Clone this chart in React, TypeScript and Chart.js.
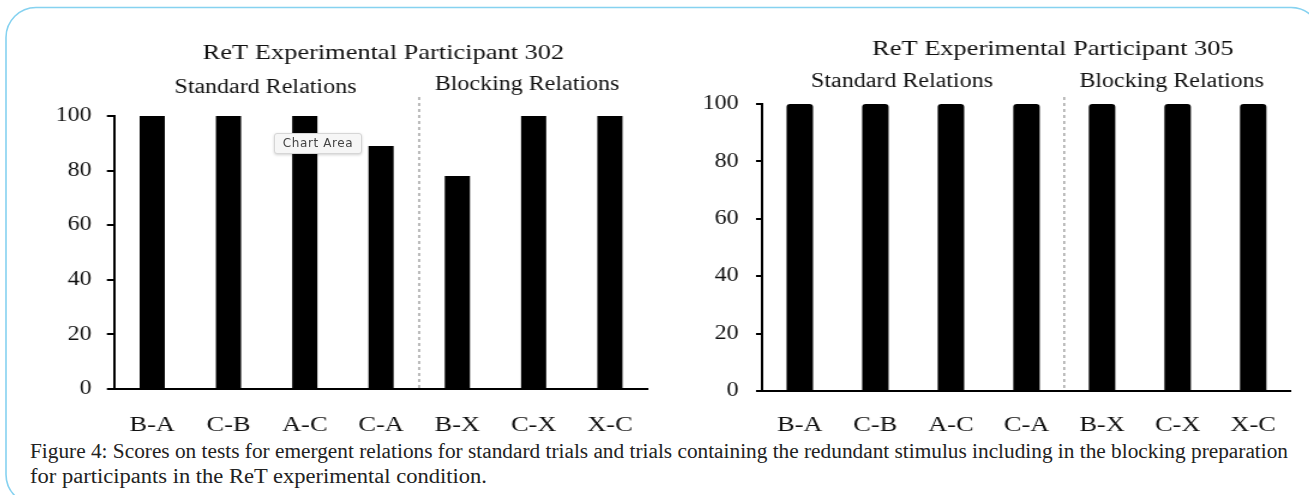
import React, { useEffect, useRef } from 'react';
import { Chart, registerables } from 'chart.js';

Chart.register(...registerables);

// ---------- data ----------
const categories = ['B-A', 'C-B', 'A-C', 'C-A', 'B-X', 'C-X', 'X-C'];
const scores302 = [100, 100, 100, 89, 78, 100, 100];
const scores305 = [100, 100, 100, 100, 100, 100, 100];
const yTickValues = [0, 20, 40, 60, 80, 100];
const groupLabels = ['Standard Relations', 'Blocking Relations'];
const groupRanges = [
  [0, 3],
  [4, 6],
];
const title302 = 'ReT Experimental Participant 302';
const title305 = 'ReT Experimental Participant 305';
const captionLines = [
  'Figure 4: Scores on tests for emergent relations for standard trials and trials containing the redundant stimulus including in the blocking preparation',
  'for participants in the ReT experimental condition.',
];
const tooltipText = 'Chart Area';

// ---------- styling ----------
const SERIF = '"Liberation Serif", "Times New Roman", Times, serif';
const STRETCH = 1.2;

const headerPlugin = {
  id: 'headers',
  afterDraw(chart: any, _args: any, opts: any) {
    const { ctx, chartArea, scales } = chart;
    const xs = scales.x;
    ctx.save();
    ctx.fillStyle = '#111';
    ctx.textAlign = 'center';
    ctx.textBaseline = 'middle';
    ctx.font = `22px ${SERIF}`;
    ctx.fillText(opts.title, (chartArea.left + chartArea.right) / 2 + opts.titleDx, opts.titleY);
    ctx.font = `20px ${SERIF}`;
    opts.groups.forEach((g: any, i: number) => {
      const [a, b] = groupRanges[i];
      const cx = (xs.getPixelForValue(a) + xs.getPixelForValue(b)) / 2 + g.dx;
      ctx.fillText(groupLabels[i], cx, g.y);
    });
    const sx = xs.getPixelForValue(3.5);
    ctx.strokeStyle = '#777';
    ctx.lineWidth = 1;
    ctx.setLineDash([3, 3]);
    ctx.beginPath();
    ctx.moveTo(sx, opts.sepTop);
    ctx.lineTo(sx, chartArea.bottom);
    ctx.stroke();
    ctx.restore();
  },
};

type Params = {
  values: number[];
  title: string;
  titleDx: number;
  titleY: number;
  groups: { dx: number; y: number }[];
  sepTop: number;
  width: number;
  height: number;
  padTop: number;
  padRight: number;
  yWidth: number;
  xHeight: number;
  xPad: number;
  yPad: number;
  tickLen: number;
  barPct: number;
  radius: number;
  left: number;
};

function BarPanel(p: Params) {
  const ref = useRef<HTMLCanvasElement | null>(null);
  useEffect(() => {
    if (!ref.current) return;
    const chart = new Chart(ref.current, {
      type: 'bar',
      data: {
        labels: categories,
        datasets: [
          {
            data: p.values,
            backgroundColor: '#000',
            borderRadius: p.radius,
            barPercentage: p.barPct,
            categoryPercentage: 1,
          },
        ],
      },
      options: {
        responsive: false,
        animation: false,
        devicePixelRatio: 1,
        events: [],
        layout: { padding: { top: p.padTop, right: p.padRight, left: 0, bottom: 0 } },
        plugins: {
          legend: { display: false },
          tooltip: { enabled: false },
          headers: { title: p.title, titleDx: p.titleDx, titleY: p.titleY, groups: p.groups, sepTop: p.sepTop },
        } as any,
        scales: {
          x: {
            grid: { display: false },
            border: { display: true, color: '#000', width: 2 },
            ticks: {
              color: '#111',
              font: { family: SERIF, size: 22 },
              padding: p.xPad,
              maxRotation: 0,
              autoSkip: false,
            },
            afterFit: (s: any) => {
              s.height = p.xHeight;
            },
          },
          y: {
            min: 0,
            max: 100,
            afterBuildTicks: (s: any) => {
              s.ticks = yTickValues.map((v) => ({ value: v }));
            },
            grid: {
              display: true,
              drawOnChartArea: false,
              drawTicks: true,
              tickLength: p.tickLen,
              color: '#000',
              lineWidth: 2,
            },
            border: { display: true, color: '#000', width: 2 },
            ticks: { color: '#111', font: { family: SERIF, size: 20 }, padding: p.yPad },
            afterFit: (s: any) => {
              s.width = p.yWidth;
            },
          },
        } as any,
      },
      plugins: [headerPlugin as any],
    });
    return () => chart.destroy();
  }, []);
  return (
    <div
      style={{
        position: 'absolute',
        left: p.left,
        top: 0,
        width: p.width,
        height: p.height,
        transform: `scaleX(${STRETCH})`,
        transformOrigin: '0 0',
      }}
    >
      <canvas ref={ref} width={p.width} height={p.height} />
    </div>
  );
}

export default function App() {
  return (
    <div
      style={{
        position: 'absolute',
        left: 0,
        top: 0,
        width: 1309,
        height: 495,
        overflow: 'hidden',
        background: '#fff',
      }}
    >
      <svg width={1309} height={495} style={{ position: 'absolute', left: 0, top: 0 }}>
        <rect x={6} y={7.5} width={1315} height={497} rx={30} ry={30} fill="none" stroke="#86d2f0" strokeWidth={1.6} />
        <text
          x={30}
          y={458}
          fontFamily={SERIF}
          fontSize={20}
          fill="#222"
          textLength={1258}
          lengthAdjust="spacingAndGlyphs"
        >
          {captionLines[0]}
        </text>
        <text
          x={30}
          y={483}
          fontFamily={SERIF}
          fontSize={20}
          fill="#222"
          textLength={457}
          lengthAdjust="spacingAndGlyphs"
        >
          {captionLines[1]}
        </text>
      </svg>
      <BarPanel
        values={scores302}
        title={title302}
        titleDx={2}
        titleY={53}
        groups={[
          { dx: -1, y: 88 },
          { dx: -5.5, y: 85 },
        ]}
        sepTop={97}
        width={560}
        height={440}
        padTop={116}
        padRight={28.3}
        yWidth={86.7}
        xHeight={51}
        xPad={15}
        yPad={12.7}
        tickLen={6}
        barPct={0.33}
        radius={0}
        left={10}
      />
      <BarPanel
        values={scores305}
        title={title305}
        titleDx={22}
        titleY={49}
        groups={[
          { dx: -9.3, y: 82 },
          { dx: -5, y: 82 },
        ]}
        sepTop={97}
        width={540}
        height={440}
        padTop={104}
        padRight={14.2}
        yWidth={85}
        xHeight={49}
        xPad={13}
        yPad={14.5}
        tickLen={5}
        barPct={0.35}
        radius={3}
        left={660}
      />
      <div
        style={{
          position: 'absolute',
          left: 274,
          top: 133,
          width: 88,
          height: 21,
          boxSizing: 'border-box',
          background: '#f6f6f6',
          border: '1px solid #d6d6d6',
          borderRadius: 3,
          boxShadow: '0 1px 3px rgba(0,0,0,0.18)',
          font: '12px "DejaVu Sans", sans-serif',
          letterSpacing: '0.6px',
          color: '#444',
          lineHeight: '19px',
          textAlign: 'center',
        }}
      >
        {tooltipText}
      </div>
    </div>
  );
}
